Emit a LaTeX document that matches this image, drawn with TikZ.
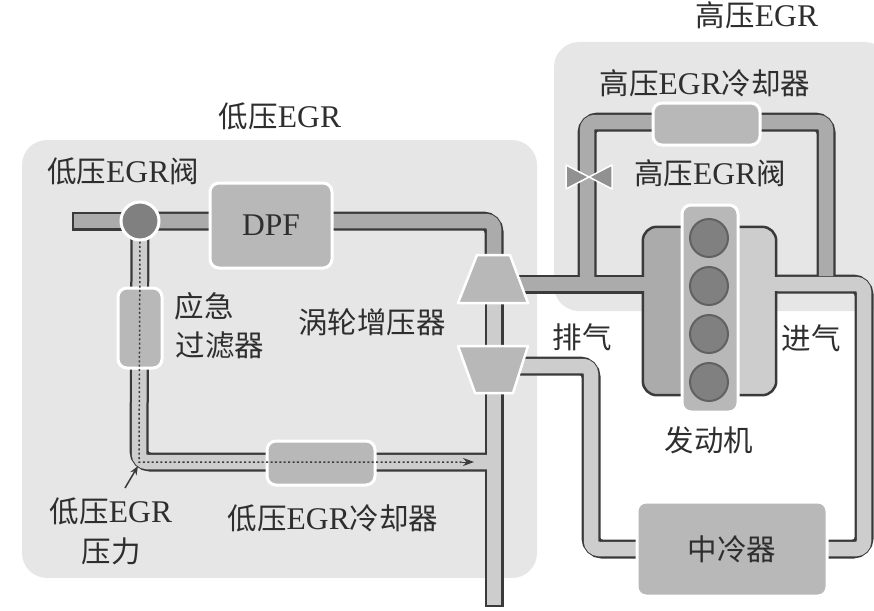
\documentclass[tikz,border=0pt]{standalone}
\usepackage{fontspec}
\setmainfont[Scale=1.07]{Liberation Serif}
\newfontfamily\cjk{Noto Sans CJK SC}
\usetikzlibrary{arrows.meta}
\pgfdeclarelayer{regions}
\pgfdeclarelayer{pipes}
\pgfsetlayers{regions,pipes,main}
\definecolor{regiongray}{HTML}{E6E6E6}
\definecolor{darkfill}{HTML}{ABABAB}
\definecolor{lightfill}{HTML}{CDCDCD}
\definecolor{boxfill}{HTML}{B8B8B8}
\definecolor{cylfill}{HTML}{808080}
\definecolor{edge}{HTML}{3A3A3A}
\definecolor{ink}{HTML}{2E2E2E}
\tikzset{
  x=1pt,y=-1pt,
  region/.style={fill=regiongray,rounded corners=25pt},
  label/.style={text=ink,inner sep=0pt,align=center,font=\fontsize{29.5}{40}\selectfont},
  unit/.style={fill=boxfill,draw=white,line width=3pt,rounded corners=9pt,inner sep=0pt},
  cyl/.style={circle,fill=cylfill,draw=edge!80!white,line width=2pt,minimum size=38pt,inner sep=0pt},
  turb/.style={fill=boxfill,draw=white,line width=2.5pt,line join=round},
  pipeout/.style={draw=edge,line width=19pt,rounded corners=11pt},
  pipein/.style={line width=14.5pt,rounded corners=8pt},
  dotline/.style={draw=edge,line width=1.5pt,dash pattern=on 2pt off 2.4pt},
}
\begin{document}
\begin{tikzpicture}
\useasboundingbox (0,0) rectangle (874,610);
% units
\node[unit,circle,minimum size=38pt,fill=cylfill] (lpvalve) at (140,221) {};
\node[unit,minimum width=122pt,minimum height=85pt,fill=boxfill] (dpf) at (271,225.5) {};
\node[label] at (dpf) {DPF};
\node[unit,minimum width=44pt,minimum height=80pt] (filter) at (140,328) {};
\node[unit,minimum width=108pt,minimum height=44pt] (lpcooler) at (321,463) {};
\node[unit,minimum width=107pt,minimum height=42pt] (hpcooler) at (706.5,124) {};
\node[unit,minimum width=190pt,minimum height=94pt] (intercooler) at (732,549) {};
\filldraw[turb] (477,255) -- (510,255) -- (528,303) -- (458,303) -- cycle;
\filldraw[turb] (458,346) -- (528,346) -- (513,393) -- (475,393) -- cycle;
\coordinate (turbine) at (494,279);
\coordinate (compressor) at (494,366);
\coordinate (stub) at (72,221);
\coordinate (lpelbow) at (139,462);
\coordinate (tee) at (494,462);
\coordinate (outlet) at (494,607);
\coordinate (dpfelbow) at (494,221);
\coordinate (hpleft) at (587,284);
\coordinate (hpright) at (826,284);
\coordinate (hptl) at (587,122);
\coordinate (hptr) at (826,122);
\coordinate (exhin) at (494,284);
\coordinate (intaker) at (864,284);
\coordinate (intakeb) at (864,549);
\coordinate (cpr) at (591,366);
\coordinate (cpb) at (591,549);
% engine
\node[minimum width=133pt,minimum height=168pt,inner sep=0pt] (engine) at (709.5,311) {};
\coordinate (enginemid) at (709.5,284);
\fill[darkfill,rounded corners=14pt] (engine.north west) -- (engine.north) -- (engine.south) -- (engine.south west) -- cycle;
\fill[lightfill,rounded corners=14pt] (engine.north) -- (engine.north east) -- (engine.south east) -- (engine.south) -- cycle;
\fill[darkfill] (670,240) rectangle (709.5,380);
\fill[lightfill] (709.5,240) rectangle (750,380);
\draw[edge,line width=2.5pt,rounded corners=14pt] (engine.north west) rectangle (engine.south east);
\fill[darkfill] (640,277) rectangle (650,291);
\fill[lightfill] (770,277) rectangle (780,291);
\node[unit,minimum width=56pt,minimum height=207pt,fill=boxfill] (bank) at (710,308.5) {};
\node[cyl] (c1) at (709,238) {};
\node[cyl] (c2) at (709,286) {};
\node[cyl] (c3) at (709,334) {};
\node[cyl] (c4) at (709,382) {};
% valve
\coordinate (hpvalve) at (589,177);
\filldraw[fill=darkfill!85!black,draw=white,line width=1.5pt,line join=round] (566,165) -- (hpvalve) -- (566,189) -- cycle;
\filldraw[fill=darkfill!85!black,draw=white,line width=1.5pt,line join=round] (612,165) -- (hpvalve) -- (612,189) -- cycle;
% regions
\begin{pgfonlayer}{regions}
\fill[region] (22,140) rectangle (537,578);
\fill[region] (554,42) rectangle (890,311);
\end{pgfonlayer}
% pipes
\begin{pgfonlayer}{pipes}
% edges
\draw[pipeout] (stub) -- (lpvalve.center);
\draw[pipeout] (lpvalve.center) -- (dpfelbow) -- (turbine);
\draw[pipeout] (exhin) -- (enginemid);
\draw[pipeout] (hpleft) -- (hptl) -- (hptr) -- (hpright);
\draw[pipeout] (enginemid) -- (intaker) -- (intakeb) -- (intercooler.center);
\draw[pipeout] (compressor) -- (cpr) -- (cpb) -- (intercooler.center);
\draw[pipeout] (turbine) -- (outlet);
\draw[pipeout] (lpvalve.center) -- (lpelbow) -- (tee);
% fills
\draw[pipein,darkfill] (74,221) -- (lpvalve.center);
\draw[pipein,darkfill] (lpvalve.center) -- (dpfelbow) -- (turbine);
\draw[pipein,darkfill] (hpleft) -- (hptl) -- (hptr) -- (826,276);
\draw[pipein,darkfill] (exhin) -- (enginemid);
\draw[pipein,lightfill] (enginemid) -- (intaker) -- (intakeb) -- (intercooler.center);
\draw[pipein,lightfill] (compressor) -- (cpr) -- (cpb) -- (intercooler.center);
\draw[pipein,lightfill] (turbine) -- (494,605);
\draw[pipein,lightfill] (lpvalve.center) -- (lpelbow) -- (tee);
\end{pgfonlayer}
% pressure line
\draw[dotline] (lpvalve.south) -- (lpelbow) -- (464,462);
\draw[-{Stealth[length=11pt,width=8pt]},edge,line width=1pt] (462,462) -- (474,462);
\coordinate (tap) at (138,466);
\coordinate (tapfoot) at (125,488);
\draw[-{Stealth[length=9pt,width=7pt]},edge,line width=1.5pt] (tapfoot) -- (tap);
% labels
\node[label] (t1) at (757,15) {{\cjk 高压}EGR};
\node[label] (t2) at (705,83) {{\cjk 高压}EGR{\cjk 冷却器}};
\node[label] (t3) at (710,173) {{\cjk 高压}EGR{\cjk 阀}};
\node[label] (t4) at (280,116) {{\cjk 低压}EGR};
\node[label] (t5) at (123,171) {{\cjk 低压}EGR{\cjk 阀}};
\node[label] (t6) at (204,306) {\cjk 应急};
\node[label] (t7) at (220,345) {\cjk 过滤器};
\node[label] (t8) at (372,322) {\cjk 涡轮增压器};
\node[label] (t9) at (582,337) {\cjk 排气};
\node[label] (t10) at (811,338) {\cjk 进气};
\node[label] (t11) at (709,440) {\cjk 发动机};
\node[label] (t12) at (intercooler) {\cjk 中冷器};
\node[label] (t13) at (111,531) {{\cjk 低压}EGR\\{\cjk 压力}};
\node[label] (t14) at (333,518) {{\cjk 低压}EGR{\cjk 冷却器}};
\end{tikzpicture}
\end{document}
